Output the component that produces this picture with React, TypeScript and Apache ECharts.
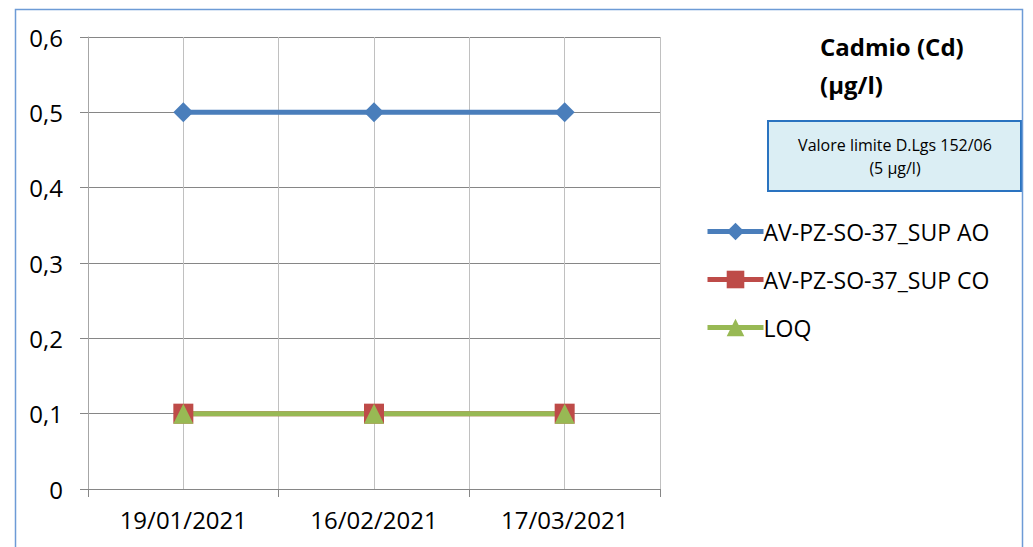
import React, { useEffect, useRef } from "react";
import * as echarts from "echarts";

const categories = ["19/01/2021", "16/02/2021", "17/03/2021"];
const seriesNames = ["AV-PZ-SO-37_SUP AO", "AV-PZ-SO-37_SUP CO", "LOQ"];
const aoValues = [0.5, 0.5, 0.5];
const coValues = [0.1, 0.1, 0.1];
const loqValues = [0.1, 0.1, 0.1];
const yTicks = { min: 0, max: 0.6, interval: 0.1 };
const titleLines = ["Cadmio (Cd)", "(µg/l)"];
const limitLines = ["Valore limite D.Lgs 152/06", "(5 µg/l)"];

const FONT = "Open Sans";

export default function App() {
  const ref = useRef<HTMLDivElement>(null);
  useEffect(() => {
    if (!ref.current) return;
    const chart = echarts.init(ref.current, undefined, { renderer: "svg" });
    chart.setOption({
      animation: false,
      backgroundColor: "#ffffff",
      textStyle: { fontFamily: FONT },
      grid: { left: 88, right: 373, top: 37, bottom: 58, containLabel: false },
      xAxis: [
        {
          type: "category",
          data: categories,
          boundaryGap: true,
          axisLine: { show: true, lineStyle: { color: "#868686", width: 1 } },
          axisTick: { show: true, length: 8, inside: false, lineStyle: { color: "#868686" } },
          axisLabel: { color: "#000", fontSize: 24, fontFamily: FONT, margin: 18 },
          splitLine: { show: false },
        },
        {
          type: "value",
          min: 0,
          max: 6,
          interval: 1,
          position: "top",
          axisLine: { show: false },
          axisTick: { show: false },
          axisLabel: { show: false },
          splitLine: { show: true, lineStyle: { color: "#c0c0c0", width: 1 } },
        },
      ],
      yAxis: {
        type: "value",
        min: yTicks.min,
        max: yTicks.max,
        interval: yTicks.interval,
        axisLine: { show: true, lineStyle: { color: "#a6a6a6", width: 1 } },
        axisTick: { show: true, length: 8, lineStyle: { color: "#868686" } },
        axisLabel: {
          color: "#000",
          fontSize: 24,
          fontFamily: FONT,
          margin: 25,
          formatter: (v: number) => (v === 0 ? "0" : v.toFixed(1).replace(".", ",")),
        },
        splitLine: { show: true, lineStyle: { color: "#868686", width: 1 } },
      },
      legend: {
        orient: "vertical",
        left: 700,
        top: 215,
        itemWidth: 56,
        itemHeight: 22,
        itemGap: 25,
        lineStyle: { width: 5 },
        textStyle: { color: "#000", fontSize: 23, fontFamily: FONT, padding: [0, 0, 0, -5] },
        data: seriesNames,
      },
      series: [
        {
          name: seriesNames[0],
          type: "line",
          xAxisIndex: 0,
          data: aoValues,
          symbol: "diamond",
          symbolSize: 20,
          lineStyle: { color: "#4a7ebb", width: 5 },
          itemStyle: { color: "#4a7ebb" },
        },
        {
          name: seriesNames[1],
          type: "line",
          xAxisIndex: 0,
          data: coValues,
          symbol: "rect",
          symbolSize: 20,
          lineStyle: { color: "#be4b48", width: 5 },
          itemStyle: { color: "#be4b48" },
        },
        {
          name: seriesNames[2],
          type: "line",
          xAxisIndex: 0,
          data: loqValues,
          symbol: "triangle",
          symbolSize: 20,
          lineStyle: { color: "#98b954", width: 5 },
          itemStyle: { color: "#98b954" },
        },
      ],
      graphic: [
        {
          type: "rect",
          left: 13,
          top: 7,
          shape: { width: 1007, height: 560 },
          style: { fill: "none", stroke: "#6d9bd6", lineWidth: 1.5 },
          silent: true,
          z: 100,
        },
        {
          type: "text",
          left: 820,
          top: 27,
          style: {
            text: titleLines.join("\n"),
            fontSize: 24,
            fontWeight: "bold",
            fontFamily: FONT,
            fill: "#000",
            lineHeight: 38,
          },
        },
        {
          type: "group",
          left: 767,
          top: 120,
          children: [
            {
              type: "rect",
              shape: { x: 0, y: 0, width: 253, height: 70 },
              style: { fill: "#dbeef4", stroke: "#2a73c0", lineWidth: 2 },
            },
            {
              type: "text",
              x: 127,
              y: 35,
              style: {
                text: limitLines.join("\n"),
                fontSize: 16,
                fontFamily: FONT,
                fill: "#000",
                align: "center",
                verticalAlign: "middle",
                lineHeight: 23,
              },
            },
          ],
        },
      ],
    });
    return () => chart.dispose();
  }, []);
  return (
    <div
      ref={ref}
      style={{ position: "fixed", left: 0, top: 0, width: 1033, height: 547 }}
    />
  );
}
